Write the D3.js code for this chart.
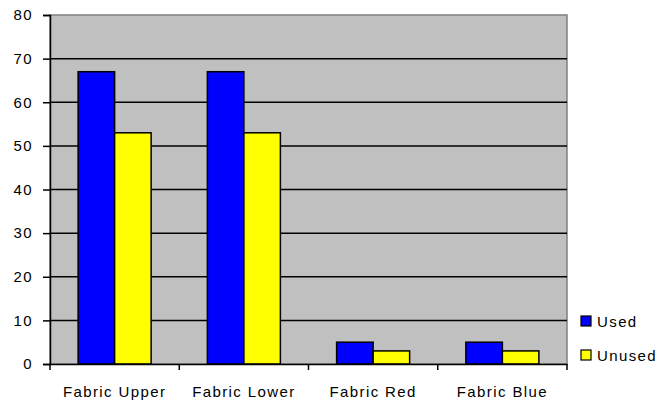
<!DOCTYPE html>
<html>
<head>
<meta charset="utf-8">
<script src="https://cdn.jsdelivr.net/npm/d3@7"></script>
<style>
  body { margin: 0; background: #fff; }
  text { font-family: "Liberation Sans", Arial, sans-serif; font-size: 15px; letter-spacing: 1.4px; fill: #000; }
</style>
</head>
<body>
<svg width="661" height="407"></svg>
<script>
var categories = ["Fabric Upper", "Fabric Lower", "Fabric Red", "Fabric Blue"];
var seriesNames = ["Used", "Unused"];
var used = [67, 67, 5, 5];
var unused = [53, 53, 3, 3];
var yTicks = [0, 10, 20, 30, 40, 50, 60, 70, 80];
var colors = ["#0000ff", "#ffff00"];

var svg = d3.select("svg");
var plotLeft = 50, plotRight = 567, plotTop = 15, plotBottom = 364;

var x = d3.scaleBand().domain(categories).range([plotLeft, plotRight]).paddingInner(0).paddingOuter(0);
var inner = d3.scaleBand().domain(seriesNames).range([0, x.bandwidth()]).paddingInner(0).paddingOuter(0.77);
var y = d3.scaleLinear().domain([0, 80]).range([plotBottom, plotTop]);

svg.append("rect")
    .attr("x", plotLeft).attr("y", plotTop)
    .attr("width", plotRight - plotLeft).attr("height", plotBottom - plotTop)
    .attr("fill", "#c0c0c0")
    .attr("stroke", "#808080").attr("stroke-width", 1.5);

svg.append("g").selectAll("line")
    .data(yTicks.slice(1, -1))
    .enter().append("line")
    .attr("x1", plotLeft).attr("x2", plotRight)
    .attr("y1", function(d) { return y(d); }).attr("y2", function(d) { return y(d); })
    .attr("stroke", "#000").attr("stroke-width", 1.5);

var rows = categories.map(function(c, i) { return {cat: c, vals: [used[i], unused[i]]}; });
svg.append("g").selectAll("g")
    .data(rows)
    .enter().append("g")
    .attr("transform", function(d) { return "translate(" + x(d.cat) + ",0)"; })
    .selectAll("rect")
    .data(function(d) { return d.vals.map(function(v, j) { return {name: seriesNames[j], v: v, j: j}; }); })
    .enter().append("rect")
    .attr("x", function(d) { return inner(d.name); })
    .attr("y", function(d) { return y(d.v); })
    .attr("width", inner.bandwidth())
    .attr("height", function(d) { return plotBottom - y(d.v); })
    .attr("fill", function(d) { return colors[d.j]; })
    .attr("stroke", "#000").attr("stroke-width", 1.5);

var yAxis = svg.append("g")
    .attr("transform", "translate(" + plotLeft + ",0)")
    .call(d3.axisLeft(y).tickValues(yTicks).tickSize(7).tickPadding(10));
yAxis.select(".domain").attr("stroke-width", 1.5);
yAxis.selectAll(".tick line").attr("stroke-width", 1.5);
yAxis.selectAll("text").attr("font-size", null).attr("font-family", null);

var xAxis = svg.append("g")
    .attr("transform", "translate(0," + plotBottom + ")")
    .call(d3.axisBottom(x).tickSize(0).tickPadding(22));
xAxis.select(".domain").attr("stroke-width", 1.5);
xAxis.selectAll("text").attr("font-size", null).attr("font-family", null);

var bounds = [plotLeft].concat(categories.map(function(c) { return x(c) + x.bandwidth(); }));
svg.append("g").selectAll("line")
    .data(bounds)
    .enter().append("line")
    .attr("x1", function(d) { return d; }).attr("x2", function(d) { return d; })
    .attr("y1", plotBottom).attr("y2", plotBottom + 6)
    .attr("stroke", "#000").attr("stroke-width", 1.5);

var legend = svg.append("g").selectAll("g")
    .data(seriesNames)
    .enter().append("g")
    .attr("transform", function(d, i) { return "translate(581," + (316 + i * 34) + ")"; });
legend.append("rect")
    .attr("width", 10).attr("height", 10)
    .attr("fill", function(d, i) { return colors[i]; })
    .attr("stroke", "#000").attr("stroke-width", 1.2);
legend.append("text")
    .attr("x", 16).attr("y", 10.5)
    .text(function(d) { return d; });
</script>
</body>
</html>
